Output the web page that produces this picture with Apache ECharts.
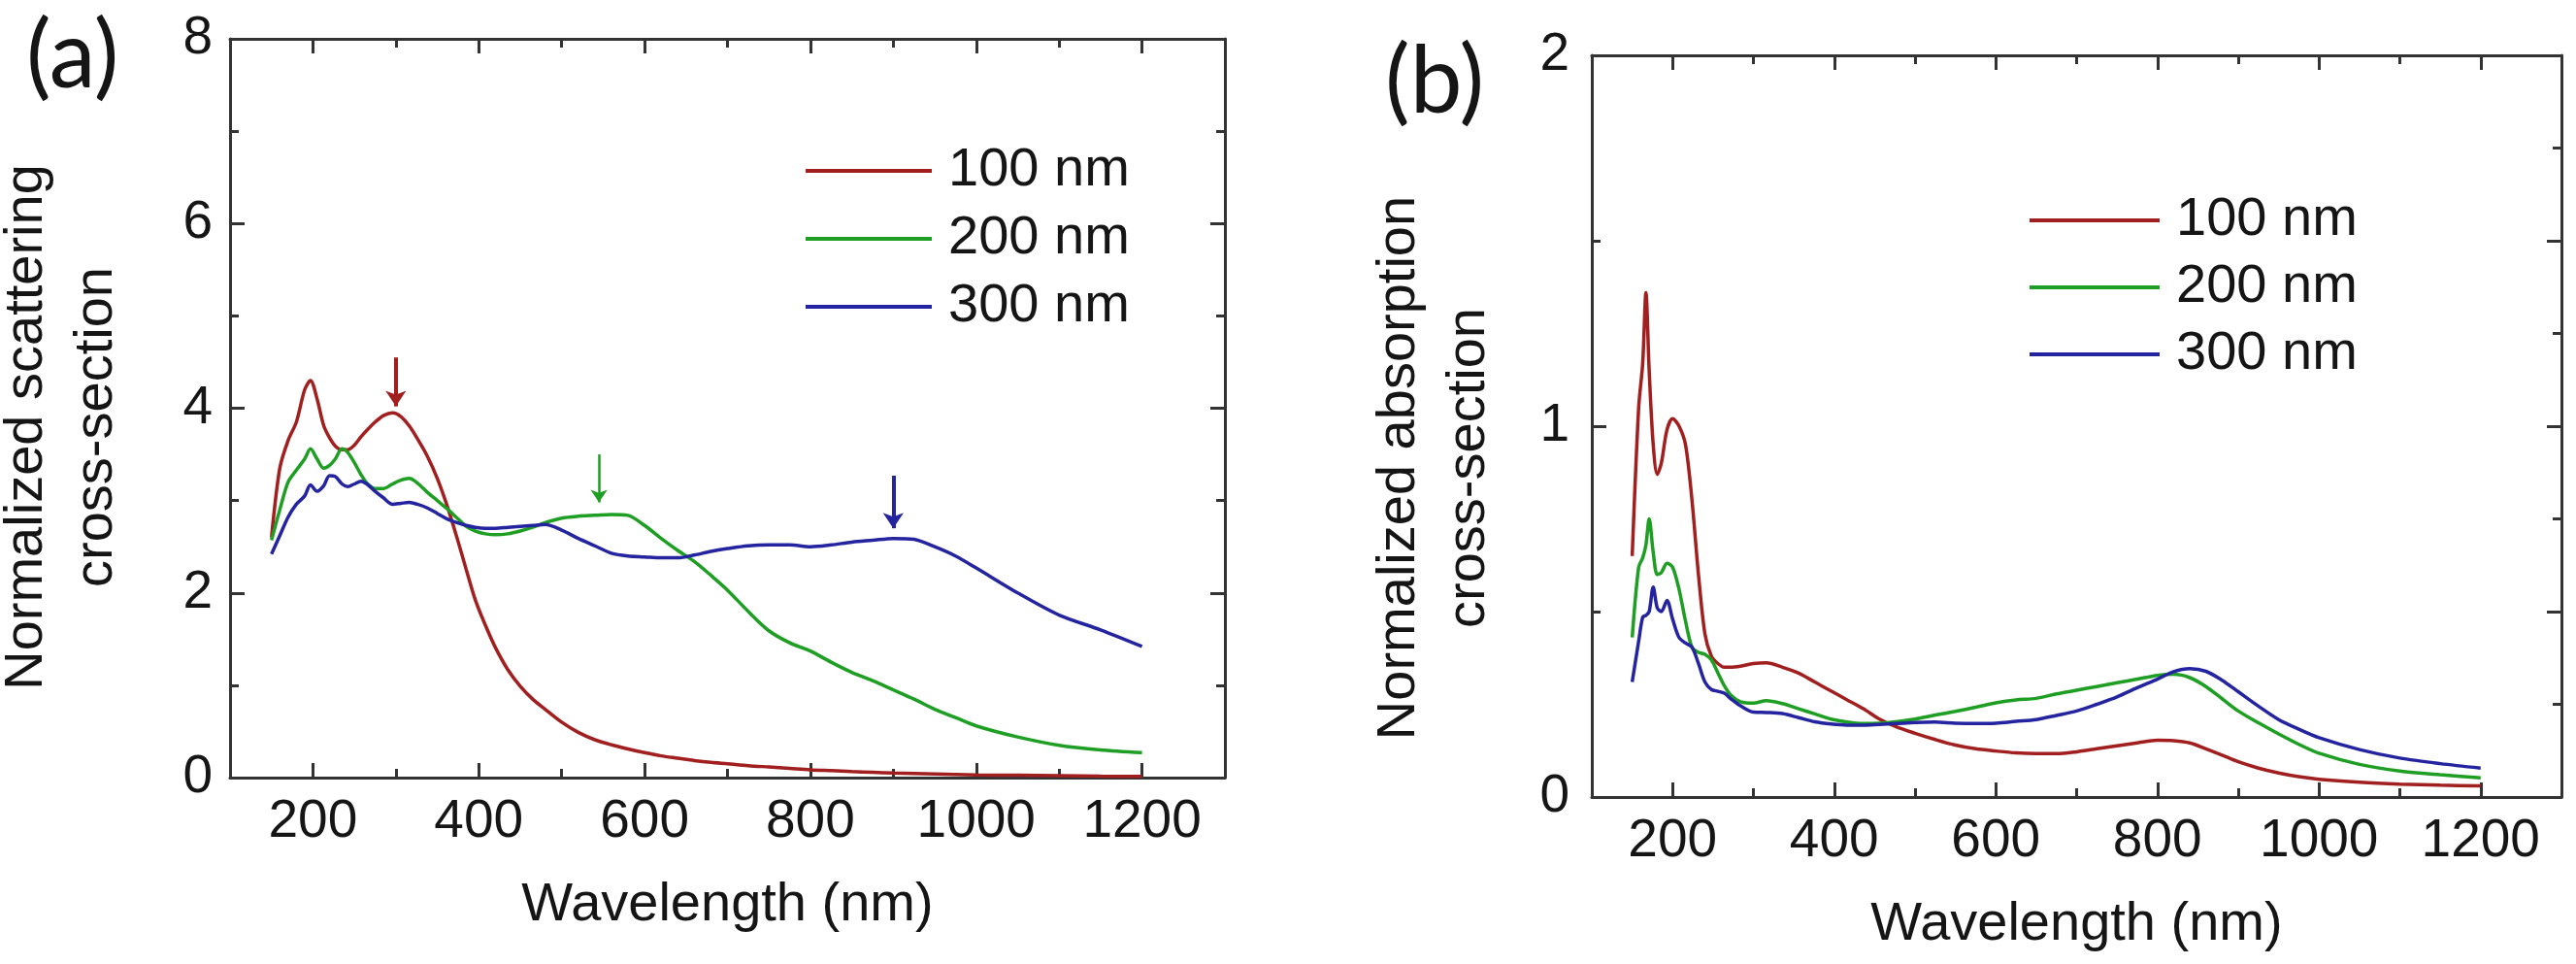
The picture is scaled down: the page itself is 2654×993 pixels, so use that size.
<!DOCTYPE html>
<html>
<head>
<meta charset="utf-8">
<script src="https://cdn.jsdelivr.net/npm/echarts@6/dist/echarts.min.js"></script>
<style>
html, body { margin: 0; padding: 0; background: #fff; }
#chart { width: 2654px; height: 993px; }
</style>
</head>
<body>
<div id="chart"></div>
<script>
// ---- data ----
var seriesNames = ['100 nm', '200 nm', '300 nm'];

// (a) scattering cross-section
var wlScat = [150,160,170,180,190,197,205,213,220,227,235,242,250,258,265,275,285,296,306,316,
              326,338,350,362,374,385,396,408,420,435,450,465,480,500,520,540,560,580,600,620,
              640,660,680,700,725,750,775,800,825,850,875,900,925,950,975,1000,1050,1100,1150,1200];
var scat100 = [2.60,3.35,3.65,3.85,4.20,4.30,4.10,3.81,3.68,3.59,3.55,3.55,3.60,3.69,3.76,3.85,3.92,3.95,3.91,3.81,
               3.67,3.48,3.24,2.94,2.59,2.25,1.92,1.65,1.41,1.17,0.99,0.85,0.74,0.60,0.49,0.41,0.355,0.31,0.27,0.235,
               0.21,0.185,0.165,0.15,0.13,0.115,0.10,0.085,0.075,0.065,0.057,0.05,0.045,0.04,0.035,0.03,0.025,0.02,0.015,0.012];
var scat200 = [2.57,2.90,3.20,3.33,3.45,3.56,3.45,3.35,3.38,3.45,3.56,3.52,3.41,3.28,3.19,3.13,3.13,3.18,3.22,3.24,
               3.19,3.09,3.00,2.91,2.81,2.72,2.67,2.64,2.63,2.64,2.67,2.71,2.76,2.81,2.83,2.84,2.85,2.84,2.73,2.59,
               2.46,2.34,2.19,2.03,1.80,1.59,1.46,1.37,1.25,1.14,1.05,0.95,0.85,0.74,0.65,0.56,0.44,0.35,0.30,0.27];
var scat300 = [2.42,2.62,2.82,2.96,3.05,3.17,3.10,3.16,3.27,3.26,3.18,3.15,3.18,3.21,3.18,3.10,3.03,2.96,2.97,2.98,
               2.96,2.92,2.86,2.80,2.76,2.73,2.71,2.70,2.70,2.71,2.72,2.73,2.74,2.68,2.59,2.51,2.43,2.40,2.39,2.38,
               2.38,2.41,2.45,2.48,2.51,2.52,2.52,2.50,2.52,2.55,2.57,2.59,2.58,2.50,2.40,2.27,2.00,1.76,1.60,1.42];

// resonance arrows in (a): x, top of shaft, tip
var arrowX   = [300, 545, 900];
var arrowTop = [4.55, 3.50, 3.27];
var arrowTip = [4.02, 2.98, 2.70];

// (b) absorption cross-section
var wlAbs = [150,158,163,167,171,176,181,186,193,200,208,216,224,232,240,248,256,264,272,284,
             300,316,336,356,376,396,416,436,456,476,500,525,550,575,600,625,650,675,700,725,
             750,775,800,820,840,860,880,900,925,950,975,1000,1050,1100,1150,1200];
var abs100 = [0.65,1.05,1.17,1.36,1.15,0.95,0.87,0.90,0.99,1.02,1.00,0.95,0.80,0.60,0.44,0.38,0.36,0.35,0.35,0.353,
              0.36,0.362,0.35,0.334,0.31,0.286,0.262,0.238,0.21,0.19,0.172,0.155,0.14,0.13,0.124,0.119,0.117,0.117,0.122,0.13,
              0.138,0.146,0.153,0.152,0.146,0.13,0.113,0.095,0.078,0.065,0.055,0.048,0.04,0.035,0.032,0.03];
var abs200 = [0.43,0.62,0.645,0.68,0.75,0.66,0.60,0.605,0.63,0.62,0.56,0.474,0.404,0.39,0.385,0.37,0.335,0.30,0.275,0.257,
              0.253,0.26,0.252,0.238,0.224,0.21,0.202,0.198,0.199,0.203,0.21,0.221,0.231,0.242,0.254,0.262,0.266,0.278,0.288,0.298,
              0.308,0.318,0.328,0.331,0.322,0.298,0.265,0.232,0.20,0.17,0.142,0.118,0.088,0.07,0.06,0.052];
var abs300 = [0.31,0.42,0.485,0.49,0.50,0.566,0.51,0.50,0.53,0.48,0.43,0.415,0.404,0.36,0.31,0.29,0.285,0.28,0.265,0.246,
              0.229,0.228,0.225,0.214,0.203,0.197,0.194,0.194,0.196,0.198,0.201,0.202,0.199,0.198,0.199,0.204,0.209,0.22,0.232,0.25,
              0.27,0.295,0.318,0.338,0.346,0.339,0.315,0.284,0.245,0.209,0.183,0.16,0.128,0.105,0.09,0.078];

// ticks
var xMajor = [200, 400, 600, 800, 1000, 1200];
var xMinor = [300, 500, 700, 900, 1100];
var yLabelsA = [0, 2, 4, 6, 8];
var yMinorA = [1, 3, 5, 7];
var yLabelsB = [0, 1, 2];
var yLeftMinorB = [0.5, 1.5];
var yRightMajorB = [0.5, 1, 1.5];
var yRightMinorB = [0.25, 0.75, 1.25, 1.75];

var colors = ['#a11f1f', '#1f9e24', '#2424a0'];
var font = '"Liberation Sans", Arial, sans-serif';
var axisColor = '#333';
var txtColor = '#151515';

function pairs(xs, ys) {
    return xs.map(function (x, i) { return [x, ys[i]]; });
}

function plain(v) { return String(v); }

function xAx(grid, pos, ticks, len, labels, lineOn, name) {
    return {
        type: 'value', gridIndex: grid, position: pos, min: 100, max: 1300, interval: 100,
        axisLine: { show: lineOn, onZero: false, lineStyle: { color: axisColor, width: 3 } },
        axisTick: { show: true, inside: true, length: len, customValues: ticks,
                    lineStyle: { color: axisColor, width: 3 } },
        axisLabel: { show: !!labels, customValues: labels || [], margin: 18, formatter: plain,
                     fontSize: 55, color: txtColor, fontFamily: font },
        splitLine: { show: false },
        name: name || '', nameLocation: 'middle', nameGap: 104,
        nameTextStyle: { fontSize: 56, color: txtColor, fontFamily: font }
    };
}

function yAx(grid, pos, min, max, step, ticks, len, labels, lineOn, margin) {
    return {
        type: 'value', gridIndex: grid, position: pos, min: min, max: max, interval: step,
        axisLine: { show: lineOn, onZero: false, lineStyle: { color: axisColor, width: 3 } },
        axisTick: { show: true, inside: true, length: len, customValues: ticks,
                    lineStyle: { color: axisColor, width: 3 } },
        axisLabel: { show: !!labels, customValues: labels || [], margin: margin || 18, formatter: plain,
                     fontSize: 55, color: txtColor, fontFamily: font },
        splitLine: { show: false }
    };
}

function arrows(i) {
    return {
        silent: true,
        symbol: ['none', 'arrow'],
        symbolSize: i === 1 ? 13 : 16,
        label: { show: false },
        emphasis: { disabled: true },
        lineStyle: { color: colors[i], width: i === 1 ? 2.5 : 4, type: 'solid' },
        data: [[{ coord: [arrowX[i], arrowTop[i]] }, { coord: [arrowX[i], arrowTip[i]] }]]
    };
}

function line(name, grid, data, i, mark) {
    var s = {
        type: 'line', name: name, xAxisIndex: grid * 4, yAxisIndex: grid * 4,
        data: data, symbol: 'none', smooth: 0.3,
        lineStyle: { color: colors[i], width: 3.5 },
        itemStyle: { color: colors[i] }
    };
    if (mark) s.markLine = arrows(i);
    return s;
}

function yTitle(x, y, text) {
    return {
        type: 'text', x: x, y: y, rotation: Math.PI / 2, silent: true,
        style: { text: text, fill: txtColor, fontSize: 56, fontFamily: font, lineHeight: 72,
                 align: 'center', verticalAlign: 'middle', textAlign: 'center', textVerticalAlign: 'middle' }
    };
}

var chart = echarts.init(document.getElementById('chart'));

var option = {
    animation: false,
    backgroundColor: '#fff',
    title: [
        { text: '(a)', left: 22, top: 6, textStyle: { fontSize: 96, fontWeight: 'normal', color: txtColor, fontFamily: 'Lato' } },
        { text: '(b)', left: 1422, top: 32, textStyle: { fontSize: 96, fontWeight: 'normal', color: txtColor, fontFamily: 'Lato' } }
    ],
    graphic: [
        yTitle(64, 440, 'Normalized scattering\ncross-section'),
        yTitle(1478, 482, 'Normalized absorption\ncross-section')
    ],
    legend: [
        { orient: 'vertical', left: 825, top: 143, icon: 'rect', itemWidth: 130, itemHeight: 4, itemGap: 14,
          selectedMode: false, data: seriesNames,
          textStyle: { fontSize: 56, lineHeight: 56, color: txtColor, fontFamily: font, padding: [0, 0, 0, 12] } },
        { orient: 'vertical', left: 2086, top: 194, icon: 'rect', itemWidth: 134, itemHeight: 4, itemGap: 13,
          selectedMode: false, data: seriesNames,
          textStyle: { fontSize: 56, lineHeight: 56, color: txtColor, fontFamily: font, padding: [0, 0, 0, 12] } }
    ],
    grid: [
        { left: 237, width: 1025, top: 40, height: 761 },
        { left: 1640, width: 999, top: 57, height: 764 }
    ],
    xAxis: [
        xAx(0, 'bottom', xMinor, 9, xMajor, true, 'Wavelength (nm)'),
        xAx(0, 'bottom', xMajor, 15, null, false),
        xAx(0, 'top', xMinor, 9, null, true),
        xAx(0, 'top', xMajor, 15, null, false),
        xAx(1, 'bottom', xMinor, 9, xMajor, true, 'Wavelength (nm)'),
        xAx(1, 'bottom', xMajor, 15, null, false),
        xAx(1, 'top', xMinor, 9, null, true),
        xAx(1, 'top', xMajor, 15, null, false)
    ],
    yAxis: [
        yAx(0, 'left', 0, 8, 1, yMinorA, 9, yLabelsA, true, 18),
        yAx(0, 'left', 0, 8, 1, yLabelsA, 15, null, false),
        yAx(0, 'right', 0, 8, 1, yMinorA, 9, null, true),
        yAx(0, 'right', 0, 8, 1, yLabelsA, 15, null, false),
        yAx(1, 'left', 0, 2, 0.25, yLeftMinorB, 9, yLabelsB, true, 23),
        yAx(1, 'left', 0, 2, 0.25, yLabelsB, 15, null, false),
        yAx(1, 'right', 0, 2, 0.25, yRightMinorB, 9, null, true),
        yAx(1, 'right', 0, 2, 0.25, yRightMajorB, 15, null, false)
    ],
    series: [
        line(seriesNames[0], 0, pairs(wlScat, scat100), 0, true),
        line(seriesNames[1], 0, pairs(wlScat, scat200), 1, true),
        line(seriesNames[2], 0, pairs(wlScat, scat300), 2, true),
        line(seriesNames[0], 1, pairs(wlAbs, abs100), 0, false),
        line(seriesNames[1], 1, pairs(wlAbs, abs200), 1, false),
        line(seriesNames[2], 1, pairs(wlAbs, abs300), 2, false)
    ]
};

chart.setOption(option);
</script>
</body>
</html>
